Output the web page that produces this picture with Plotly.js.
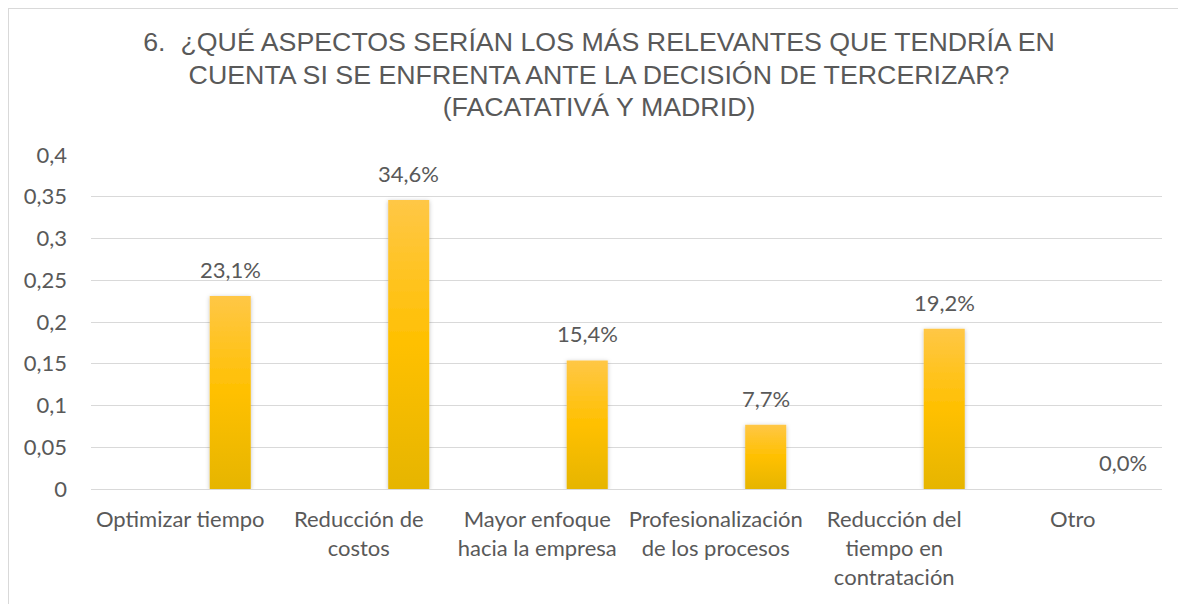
<!DOCTYPE html>
<html>
<head>
<meta charset="utf-8">
<script src="https://cdn.plot.ly/plotly-3.0.1.min.js"></script>
<style>
html,body{margin:0;padding:0;background:#fff;}
#frame{position:absolute;left:8px;top:8px;width:1300px;height:700px;border-top:1px solid #d9d9d9;border-left:1px solid #d9d9d9;}
#chart{position:absolute;left:0;top:0;width:1178px;height:604px;}
</style>
</head>
<body>
<div id="frame"></div>
<div id="chart"></div>
<script>
// ---- data ----
const categories = [
  'Optimizar tiempo',
  'Reducción de<br>costos',
  'Mayor enfoque<br>hacia la empresa',
  'Profesionalización<br>de los procesos',
  'Reducción del<br>tiempo en<br>contratación',
  'Otro'
];
const values = [0.231, 0.346, 0.154, 0.077, 0.192, 0.0];
const valueLabels = ['23,1%', '34,6%', '15,4%', '7,7%', '19,2%', '0,0%'];
const yTickValues = [0, 0.05, 0.1, 0.15, 0.2, 0.25, 0.3, 0.35, 0.4];
const yTickLabels = ['0', '0,05', '0,1', '0,15', '0,2', '0,25', '0,3', '0,35', '0,4'];
const titleText = '6.  ¿QUÉ ASPECTOS SERÍAN LOS MÁS RELEVANTES QUE TENDRÍA EN<br>CUENTA SI SE ENFRENTA ANTE LA DECISIÓN DE TERCERIZAR?<br>(FACATATIVÁ Y MADRID)';

const labelFont = {family: 'Lato, "Open Sans", sans-serif', size: 22, color: '#595959'};
const TITLE_TARGET_WIDTH = 912;

const trace = {
  type: 'bar',
  x: categories,
  y: values,
  width: 0.23,
  offset: 0.165,
  marker: {color: '#FFC000', line: {width: 0}},
  hoverinfo: 'none'
};

const annotations = categories.map((c, i) => ({
  x: c, y: values[i], xref: 'x', yref: 'y',
  text: valueLabels[i], showarrow: false,
  xanchor: 'center', yanchor: 'bottom',
  xshift: 50, yshift: 11,
  font: labelFont
}));

const layout = {
  width: 1178, height: 604,
  margin: {l: 91, r: 16, t: 155, b: 115},
  paper_bgcolor: 'rgba(0,0,0,0)',
  plot_bgcolor: 'rgba(0,0,0,0)',
  title: {
    text: titleText,
    font: {family: '"Liberation Sans", Arial, sans-serif', size: 25, color: '#595959'},
    x: 0.5085, xref: 'container', xanchor: 'center',
    y: 0.915, yref: 'container', yanchor: 'top'
  },
  showlegend: false,
  xaxis: {
    type: 'category',
    range: [-0.5, 5.5],
    showgrid: false,
    showline: true, linecolor: '#d9d9d9', linewidth: 1,
    ticks: '',
    tickfont: labelFont,
    ticklabelstandoff: 11,
    fixedrange: true
  },
  yaxis: {
    range: [0, 0.4],
    tickvals: yTickValues,
    ticktext: yTickLabels,
    showgrid: true, gridcolor: '#d9d9d9', gridwidth: 1,
    zeroline: false,
    showline: false,
    ticks: '',
    tickfont: labelFont,
    ticklabelstandoff: 23,
    fixedrange: true
  },
  annotations: annotations
};

Plotly.newPlot('chart', [trace], layout, {displayModeBar: false, staticPlot: true}).then(function(gd){
  const svg = gd.querySelector('svg.main-svg');
  const ns = 'http://www.w3.org/2000/svg';
  let defs = svg.querySelector('defs');
  if (!defs) { defs = document.createElementNS(ns, 'defs'); svg.insertBefore(defs, svg.firstChild); }
  const grad = document.createElementNS(ns, 'linearGradient');
  grad.setAttribute('id', 'barGrad');
  grad.setAttribute('x1', '0'); grad.setAttribute('y1', '0');
  grad.setAttribute('x2', '0'); grad.setAttribute('y2', '1');
  [['0%', '#FFC746'], ['50%', '#FFC000'], ['100%', '#E6B500']].forEach(function(s){
    const st = document.createElementNS(ns, 'stop');
    st.setAttribute('offset', s[0]); st.setAttribute('stop-color', s[1]);
    grad.appendChild(st);
  });
  defs.appendChild(grad);
  const filt = document.createElementNS(ns, 'filter');
  filt.setAttribute('id', 'barShadow');
  filt.setAttribute('x', '-30%'); filt.setAttribute('y', '-10%');
  filt.setAttribute('width', '160%'); filt.setAttribute('height', '120%');
  const ds = document.createElementNS(ns, 'feDropShadow');
  ds.setAttribute('dx', '0'); ds.setAttribute('dy', '1');
  ds.setAttribute('stdDeviation', '2');
  ds.setAttribute('flood-color', '#000'); ds.setAttribute('flood-opacity', '0.25');
  filt.appendChild(ds);
  defs.appendChild(filt);
  gd.querySelectorAll('.trace.bars .point path').forEach(function(p){
    p.style.fill = 'url(#barGrad)';
    p.setAttribute('filter', 'url(#barShadow)');
  });
  // widen the title slightly to match the reference's letter spacing
  const tg = gd.querySelector('.g-gtitle');
  if (tg) {
    const bb = tg.getBBox();
    const cx = bb.x + bb.width / 2;
    const s = bb.width > 0 ? TITLE_TARGET_WIDTH / bb.width : 1;
    tg.setAttribute('transform', 'translate(' + (cx * (1 - s)) + ',0) scale(' + s + ',1)');
  }
});
</script>
</body>
</html>
